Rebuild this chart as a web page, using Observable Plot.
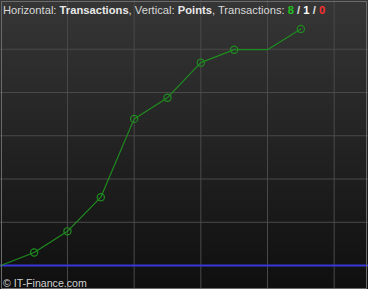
<!DOCTYPE html>
<html>
<head>
<meta charset="utf-8">
<script src="https://cdn.jsdelivr.net/npm/d3@7"></script>
<script src="https://cdn.jsdelivr.net/npm/@observablehq/plot@0.6"></script>
<style>
  html, body { margin: 0; padding: 0; background: #0d0d0d; }
  #wrap { position: relative; width: 368px; height: 289px; overflow: hidden; }
  #wrap svg { display: block; background: linear-gradient(#363636, #0f0f0f); }
  .hdr { position: absolute; left: 3px; top: 2.5px; font: 11.2px "Liberation Sans", Arial, sans-serif; line-height: 14px; color: #d8d8d8; white-space: nowrap; }
  .ftr { position: absolute; left: 3px; top: 275.5px; font: 10.6px "Liberation Sans", Arial, sans-serif; line-height: 14px; color: #d0d0d0; white-space: nowrap; }
</style>
</head>
<body>
<div id="wrap"></div>
<script>
// Transactions (horizontal) and cumulative points (vertical)
const transactions = [0, 1, 2, 3, 4, 5, 6, 7, 8, 9];
const points = [0, 30, 79, 158, 339, 388, 469, 499, 499, 547];
const xGridTicks = [2, 4, 6, 8, 10];
const yGridTicks = [100, 200, 300, 400, 500];
const zeroLine = [0];
const headerParts = [
  ["Horizontal: ", "normal", "#d8d8d8"],
  ["Transactions", "bold", "#e8e8e8"],
  [", Vertical: ", "normal", "#d8d8d8"],
  ["Points", "bold", "#e8e8e8"],
  [", Transactions: ", "normal", "#d8d8d8"],
  ["8", "bold", "#22c022"],
  [" / ", "bold", "#e0e0e0"],
  ["1", "bold", "#ffffff"],
  [" / ", "bold", "#e0e0e0"],
  ["0", "bold", "#ff3030"]
];
const footerText = "© IT-Finance.com";

const data = transactions.map((t, i) => ({t, p: points[i]}));
const marked = data.filter((d, i) => i > 0 && d.p !== points[i - 1]);

const green = "#1f8c1f";

const chart = Plot.plot({
  width: 368,
  height: 289,
  margin: 0,
  x: {domain: [0, 11], range: [0.3, 367], axis: null},
  y: {domain: [0, 600], range: [265, 5.5], axis: null},
  style: {background: "linear-gradient(#363636, #0f0f0f)"},
  marks: [
    Plot.gridX(xGridTicks, {stroke: "#4a4a4a", strokeOpacity: 1}),
    Plot.gridY(yGridTicks, {stroke: "#4a4a4a", strokeOpacity: 1}),
    Plot.ruleY(zeroLine, {stroke: "#3838d8", strokeWidth: 2, strokeOpacity: 1}),
    Plot.line(data, {x: "t", y: "p", stroke: green, strokeWidth: 1.2}),
    Plot.dot(marked, {x: "t", y: "p", r: 3.6, stroke: green, strokeWidth: 1.2, fill: "none"}),
    Plot.frame({stroke: "#6a6a6a", insetLeft: 1, insetTop: 1, insetRight: 2, insetBottom: 1})
  ]
});

const wrap = document.getElementById("wrap");
wrap.appendChild(chart);

const hdr = document.createElement("div");
hdr.className = "hdr";
for (const [txt, w, c] of headerParts) {
  const s = document.createElement("span");
  s.textContent = txt;
  s.style.fontWeight = w;
  s.style.color = c;
  hdr.appendChild(s);
}
wrap.appendChild(hdr);

const ftr = document.createElement("div");
ftr.className = "ftr";
ftr.textContent = footerText;
wrap.appendChild(ftr);
</script>
</body>
</html>
